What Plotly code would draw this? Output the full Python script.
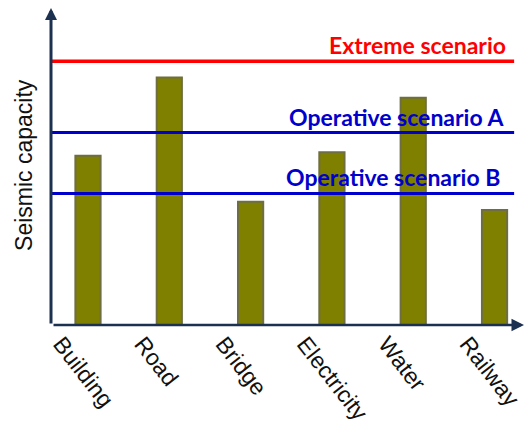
import plotly.graph_objects as go

categories = ["Building", "Road", "Bridge", "Electricity", "Water", "Railway"]
capacity = [5.34, 7.81, 3.89, 5.45, 7.17, 3.63]

scenario_names = ["Extreme scenario", "Operative scenario A", "Operative scenario B"]
scenario_levels = [8.32, 6.07, 4.15]
scenario_colors = ["#ff0000", "#0000cc", "#0000cc"]
scenario_label_right = [0.962, 0.958, 0.949]

W, H = 526, 426
L, R, T, B = 51, 0, 8, 101
AXIS = "#1c3150"

fig = go.Figure()
fig.add_trace(go.Bar(
    x=categories, y=capacity, width=0.31,
    marker=dict(color="#808000", line=dict(color="#6e6e40", width=2)),
))

for name, lvl, col, xr in zip(scenario_names, scenario_levels, scenario_colors, scenario_label_right):
    fig.add_shape(type="line", xref="paper", yref="y", x0=0, x1=0.975, y0=lvl, y1=lvl,
                  line=dict(color=col, width=3.5 if col == "#ff0000" else 3))
    fig.add_annotation(text=name, xref="paper", yref="y", x=xr, y=lvl,
                       xanchor="right", yanchor="bottom", showarrow=False, yshift=0,
                       font=dict(family="Lato, Open Sans, sans-serif", size=23, color=col, weight="bold"))

# axis arrows
fig.add_annotation(text="", xref="paper", yref="paper", x=0, y=1, ax=0, ay=H - T - B,
                   axref="pixel", ayref="pixel", showarrow=True, arrowhead=2, arrowsize=0.8,
                   arrowwidth=3, arrowcolor=AXIS, standoff=0, startstandoff=0)
fig.add_annotation(text="", xref="paper", yref="paper", x=1, y=0, ax=-(W - L - R) + 1, ay=0,
                   axref="pixel", ayref="pixel", showarrow=True, arrowhead=2, arrowsize=1,
                   arrowwidth=2.5, arrowcolor=AXIS, standoff=1, startstandoff=0)

fig.add_annotation(text="Seismic capacity", xref="paper", yref="paper",
                   x=(24 - L) / (W - L - R), y=0.505, textangle=-90, showarrow=False,
                   xanchor="center", yanchor="middle",
                   font=dict(family="Liberation Sans, Arial, sans-serif", size=23, color="#111111"))

fig.update_layout(
    width=W, height=H, margin=dict(l=L, r=R, t=T, b=B, autoexpand=False),
    plot_bgcolor="white", paper_bgcolor="white", showlegend=False,
    xaxis=dict(range=[-0.455, 5.387], showgrid=False, zeroline=False, showline=False,
               ticks="", tickangle=52, automargin=False, ticklabelshift=-27,
               tickfont=dict(family="Liberation Sans, Arial, sans-serif", size=23, color="#111111")),
    yaxis=dict(range=[0, 10], showgrid=False, zeroline=False, showline=False,
               showticklabels=False, ticks="", automargin=False),
)

fig.write_html("out.html")
